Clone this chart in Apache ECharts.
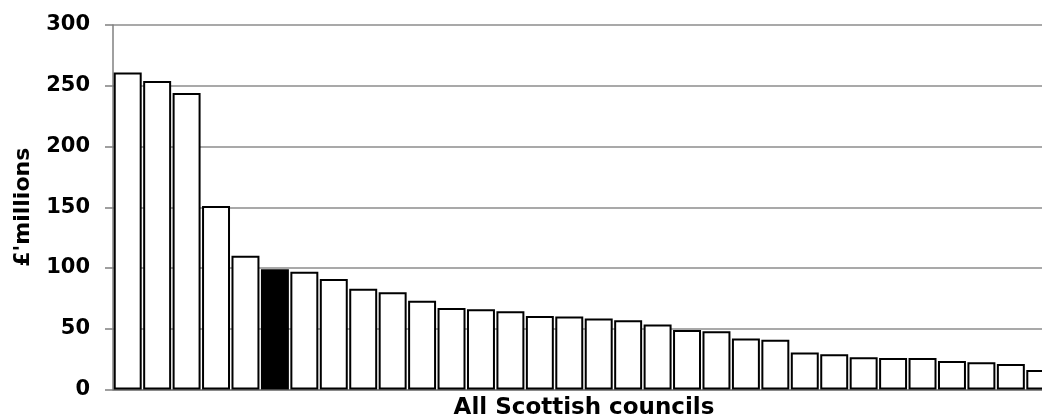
<!DOCTYPE html>
<html>
<head>
<meta charset="utf-8">
<style>
  html, body { margin: 0; padding: 0; background: #fff; }
  #chart { width: 1042px; height: 420px; }
</style>
<script src="https://cdn.jsdelivr.net/npm/echarts@6/dist/echarts.min.js"></script>
</head>
<body>
<div id="chart"></div>
<script>
// Councils ranked by spend, largest first
const councils = ['1', '2', '3', '4', '5', '6', '7', '8', '9', '10', '11', '12', '13', '14', '15', '16',
                  '17', '18', '19', '20', '21', '22', '23', '24', '25', '26', '27', '28', '29', '30', '31', '32'];
// Spend in £ millions
const spend = [261, 254, 244, 151, 110, 99, 97, 91, 83, 80, 73, 67, 66, 64.5, 60.5, 60,
               58.5, 57, 53.5, 49, 48, 42, 41, 30.5, 29, 26.5, 26, 26, 23.5, 22.5, 21, 16];
// Position of the council shown in solid black
const highlightIndex = 5;
const yTicks = { min: 0, max: 300, interval: 50 };

const font = { fontFamily: 'DejaVu Sans', fontWeight: 'bold', color: '#000' };

const chart = echarts.init(document.getElementById('chart'), null, { renderer: 'canvas' });
chart.setOption({
  animation: false,
  backgroundColor: '#fff',
  // the plot runs slightly past the right edge, so the last bar is clipped
  grid: { left: 113, top: 25, width: 942, height: 364.5, containLabel: false, outerBoundsMode: 'none' },
  xAxis: {
    type: 'category',
    data: councils,
    name: 'All Scottish councils',
    nameLocation: 'middle',
    nameGap: 7,
    nameTextStyle: Object.assign({ fontSize: 23, verticalAlign: 'top' }, font),
    axisLine: { show: true, lineStyle: { color: '#808080', width: 1.5 } },
    axisTick: { show: false },
    axisLabel: { show: false },
    splitLine: { show: false }
  },
  yAxis: {
    type: 'value',
    min: yTicks.min,
    max: yTicks.max,
    interval: yTicks.interval,
    name: "£'millions",
    nameLocation: 'middle',
    nameGap: 79,
    nameRotate: 90,
    nameTextStyle: Object.assign({ fontSize: 22 }, font),
    axisLine: { show: true, lineStyle: { color: '#808080', width: 1.5 } },
    axisTick: { show: true, length: 8, lineStyle: { color: '#808080', width: 1.5 } },
    axisLabel: Object.assign({ fontSize: 21, margin: 23 }, font),
    splitLine: { show: true, lineStyle: { color: '#8c8c8c', width: 1.5 } }
  },
  series: [{
    type: 'bar',
    barCategoryGap: '5%',
    data: spend.map((v, i) => ({
      value: v,
      itemStyle: { color: i === highlightIndex ? '#000' : '#fff' }
    })),
    itemStyle: { borderColor: '#000', borderWidth: 2 }
  }]
});
</script>
</body>
</html>
